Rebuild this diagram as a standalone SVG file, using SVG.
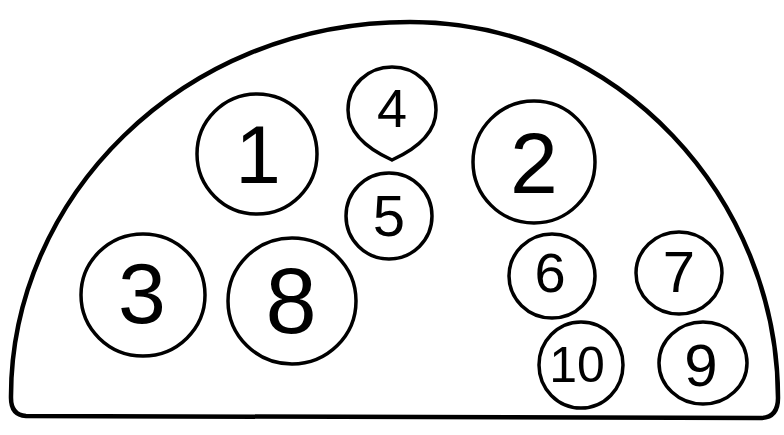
<svg xmlns="http://www.w3.org/2000/svg" width="784" height="435" viewBox="0 0 784 435">
<style>
.ring{fill:none;stroke:#000;stroke-width:3.5}
.outline{fill:none;stroke:#000;stroke-width:4.5;stroke-linejoin:round}
.num{font-family:"Liberation Sans","DejaVu Sans",sans-serif;fill:#000;text-anchor:middle}
</style>
<rect width="784" height="435" fill="#fff"/>
<g id="housing">
<path class="outline" d="M26,416 Q11,415 11,398 C10,200 180,22 410,22 C620,22 778,200 778,398 Q778,418 760,418 Z"/>
</g>
<g id="pin1"><ellipse class="ring" cx="257" cy="154" rx="60" ry="60"/><text class="num" x="258" y="183" font-size="82">1</text></g>
<g id="pin2"><ellipse class="ring" cx="534" cy="162" rx="61" ry="61"/><text class="num" x="534" y="193" font-size="86">2</text></g>
<g id="pin3"><ellipse class="ring" cx="143" cy="295" rx="62" ry="61"/><text class="num" x="142" y="323" font-size="86">3</text></g>
<g id="pin4"><path class="ring" d="M392,160 C370,150 348,135 348,110 C348,85 368,67 392,67 C416,67 436,85 436,110 C436,135 414,150 392,160 Z"/><text class="num" x="392" y="127" font-size="54">4</text></g>
<g id="pin5"><ellipse class="ring" cx="389" cy="216" rx="43" ry="43"/><text class="num" x="389" y="236" font-size="58">5</text></g>
<g id="pin6"><ellipse class="ring" cx="552" cy="276" rx="43" ry="42"/><text class="num" x="550" y="292" font-size="56">6</text></g>
<g id="pin7"><ellipse class="ring" cx="679" cy="273" rx="43" ry="41"/><text class="num" x="679" y="292" font-size="58">7</text></g>
<g id="pin8"><ellipse class="ring" cx="292" cy="301" rx="64" ry="63"/><text class="num" x="291" y="333" font-size="92">8</text></g>
<g id="pin9"><ellipse class="ring" cx="703" cy="363" rx="44" ry="41"/><text class="num" x="701" y="386" font-size="60">9</text></g>
<g id="pin10"><ellipse class="ring" cx="581" cy="365" rx="42" ry="43"/><text class="num" x="577" y="382" font-size="50">10</text></g>
</svg>
